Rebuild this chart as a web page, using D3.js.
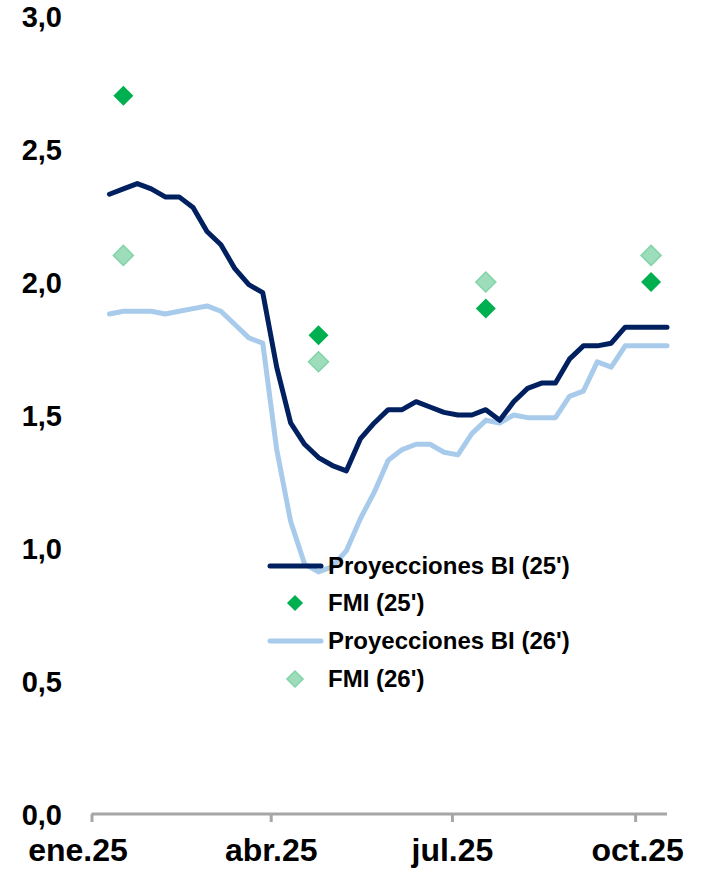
<!DOCTYPE html>
<html><head><meta charset="utf-8">
<script src="https://cdn.jsdelivr.net/npm/d3@7/dist/d3.min.js"></script>
<style>
html,body{margin:0;padding:0;background:#fff;}
svg{display:block;font-family:"Liberation Sans",Arial,sans-serif;font-weight:bold;}
</style></head>
<body><svg id="c" width="705" height="872"></svg>
<script>
const dates = ["2025-01-10","2025-01-17","2025-01-24","2025-01-31","2025-02-07","2025-02-14","2025-02-21","2025-02-28",
"2025-03-07","2025-03-14","2025-03-21","2025-03-28","2025-04-04","2025-04-11","2025-04-18","2025-04-25",
"2025-05-02","2025-05-09","2025-05-16","2025-05-23","2025-05-30","2025-06-06","2025-06-13","2025-06-20",
"2025-06-27","2025-07-04","2025-07-11","2025-07-18","2025-07-25","2025-08-01","2025-08-08","2025-08-15",
"2025-08-22","2025-08-29","2025-09-05","2025-09-12","2025-09-19","2025-09-26","2025-10-03","2025-10-10","2025-10-17"];
const bi25 = [2.33,2.35,2.37,2.35,2.32,2.32,2.28,2.19,2.14,2.05,1.99,1.96,1.68,1.47,1.39,1.34,1.31,1.29,1.41,1.47,1.52,1.52,1.55,1.53,1.51,1.50,1.50,1.52,1.48,1.55,1.60,1.62,1.62,1.71,1.76,1.76,1.77,1.83,1.83,1.83,1.83];
const bi26 = [1.88,1.89,1.89,1.89,1.88,1.89,1.90,1.91,1.89,1.84,1.79,1.77,1.37,1.10,0.94,0.91,0.93,0.99,1.11,1.21,1.33,1.37,1.39,1.39,1.36,1.35,1.43,1.48,1.47,1.50,1.49,1.49,1.49,1.57,1.59,1.70,1.68,1.76,1.76,1.76,1.76];
const fmiDates = ["2025-01-17","2025-04-25","2025-07-18","2025-10-09"];
const fmi25 = [2.7,1.8,1.9,2.0];
const fmi26 = [2.1,1.7,2.0,2.1];
const yTicks = [0,0.5,1.0,1.5,2.0,2.5,3.0];
const xTickDates = ["2025-01-01","2025-04-01","2025-07-01","2025-10-01"];
const xTickLabels = ["ene.25","abr.25","jul.25","oct.25"];
const legendLabels = ["Proyecciones BI (25')","FMI (25')","Proyecciones BI (26')","FMI (26')"];

const C_DARK="#002060", C_LIGHT="#A8CBEC", C_G="#00B050", C_LG="#9EDDBB", C_LGS="#82D4A8";
const parse = d3.timeParse("%Y-%m-%d");
const svg = d3.select("#c");
const x = d3.scaleTime().domain([parse("2025-01-01"), parse(dates[dates.length-1])]).range([91.5,667]);
const y = d3.scaleLinear().domain([0,3]).range([814,16]);

// y labels
svg.append("g").selectAll("text").data(yTicks).join("text")
  .attr("x",62).attr("y",d=>y(d)+1).attr("dy","0.35em").attr("text-anchor","end")
  .attr("font-size",29).attr("fill","#000")
  .text(d=>d3.format(".1f")(d).replace(".",","));

// x axis
const xa = d3.axisBottom(x).tickValues(xTickDates.map(parse)).tickSize(8).tickFormat((d,i)=>xTickLabels[i]);
const gx = svg.append("g").attr("transform","translate(0,814)").call(xa);
gx.select(".domain").attr("stroke","#A6A6A6").attr("stroke-width",3).attr("d","M91.5,0H667");
gx.selectAll(".tick line").attr("stroke","#A6A6A6").attr("stroke-width",3);
gx.selectAll(".tick text").attr("font-size",32).attr("fill","#000").attr("y",24).attr("dy","0.71em")
  .attr("font-family","Liberation Sans, Arial, sans-serif").attr("font-weight","bold");
gx.selectAll(".tick text").filter((d,i)=>i===0).attr("dx",-14);
gx.selectAll(".tick text").filter((d,i)=>i===3).attr("dx",2);

const line = d3.line().x((d,i)=>x(parse(dates[i]))).y(d=>y(d));
svg.append("path").datum(bi26).attr("d",line).attr("fill","none").attr("stroke",C_LIGHT).attr("stroke-width",5).attr("stroke-linejoin","round").attr("stroke-linecap","round");
svg.append("path").datum(bi25).attr("d",line).attr("fill","none").attr("stroke",C_DARK).attr("stroke-width",5).attr("stroke-linejoin","round").attr("stroke-linecap","round");

const dia = d3.symbol().type(d3.symbolSquare).size(200);
svg.append("g").selectAll("path").data(fmi26).join("path")
  .attr("d",dia).attr("transform",(d,i)=>`translate(${x(parse(fmiDates[i]))},${y(d)}) rotate(45)`)
  .attr("fill",C_LG).attr("stroke",C_LGS).attr("stroke-width",1.5);
svg.append("g").selectAll("path").data(fmi25).join("path")
  .attr("d",dia).attr("transform",(d,i)=>`translate(${x(parse(fmiDates[i]))},${y(d)}) rotate(45)`)
  .attr("fill",C_G);

// legend
const legY = [566,603,641,679];
const lg = svg.append("g");
[0,2].forEach(i=>{
  lg.append("line").attr("x1",270).attr("x2",321).attr("y1",legY[i]).attr("y2",legY[i])
    .attr("stroke", i===0?C_DARK:C_LIGHT).attr("stroke-width",5).attr("stroke-linecap","round");
});
lg.append("path").attr("d",d3.symbol().type(d3.symbolSquare).size(130)).attr("transform",`translate(295,${legY[1]}) rotate(45)`).attr("fill",C_G);
lg.append("path").attr("d",d3.symbol().type(d3.symbolSquare).size(130)).attr("transform",`translate(295,${legY[3]}) rotate(45)`).attr("fill",C_LG).attr("stroke",C_LGS).attr("stroke-width",1.5);
lg.selectAll("text").data(legendLabels).join("text")
  .attr("x",328).attr("y",(d,i)=>legY[i]).attr("dy","0.35em").attr("font-size",24).attr("fill","#000")
  .text(d=>d);
</script></body></html>
